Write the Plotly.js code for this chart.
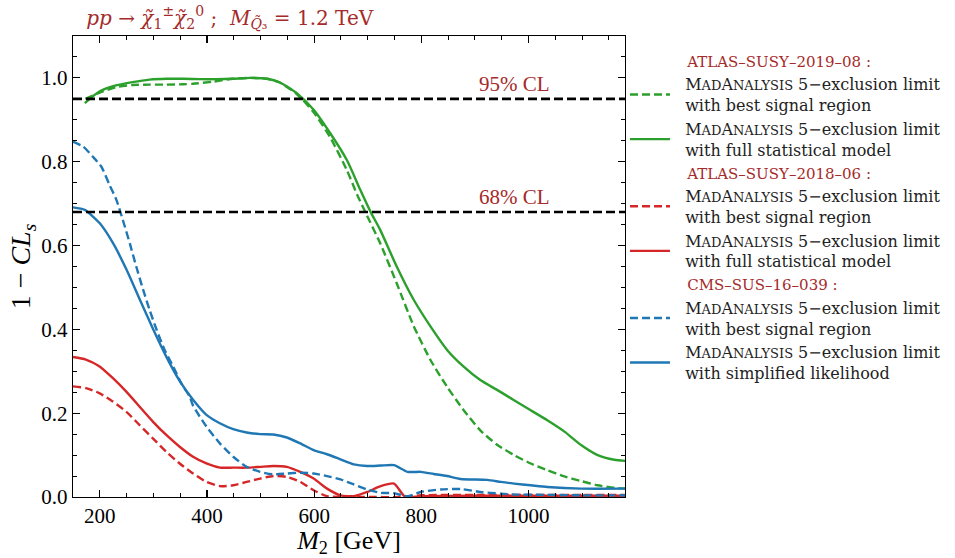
<!DOCTYPE html>
<html>
<head>
<meta charset="utf-8">
<script src="https://cdn.plot.ly/plotly-3.0.1.min.js"></script>
<style>html,body{margin:0;padding:0;background:#fff;}</style>
</head>
<body>
<div id="chart" style="width:955px;height:558px;"></div>
<script>
// ---- data ----
const greenSolidX = [172, 200, 230, 261, 293, 325, 356, 387, 418, 448, 480, 512, 536, 568, 599, 630, 661, 686, 705, 723, 754, 786, 817, 848, 879, 910, 942, 973, 1004, 1035, 1067, 1098, 1129, 1160, 1182];
const greenSolidY = [0.940, 0.968, 0.982, 0.990, 0.996, 0.998, 0.998, 0.997, 0.997, 0.998, 1.000, 0.998, 0.989, 0.963, 0.924, 0.868, 0.804, 0.733, 0.681, 0.638, 0.550, 0.470, 0.407, 0.351, 0.311, 0.279, 0.255, 0.231, 0.207, 0.183, 0.156, 0.124, 0.100, 0.089, 0.086];

const greenDashX = [173, 200, 230, 261, 293, 324, 356, 374, 411, 448, 480, 512, 536, 568, 599, 630, 661, 680, 695, 723, 754, 786, 817, 848, 879, 910, 942, 973, 1004, 1035, 1067, 1098, 1129, 1160, 1182];
const greenDashY = [0.950, 0.965, 0.978, 0.983, 0.984, 0.984, 0.985, 0.986, 0.991, 0.998, 1.000, 0.998, 0.989, 0.961, 0.918, 0.858, 0.780, 0.722, 0.681, 0.606, 0.510, 0.407, 0.327, 0.263, 0.207, 0.159, 0.124, 0.100, 0.080, 0.064, 0.049, 0.038, 0.028, 0.022, 0.020];

const redSolidX = [150, 174, 199, 224, 249, 274, 299, 324, 349, 374, 399, 424, 449, 474, 499, 524, 549, 574, 599, 624, 649, 674, 699, 724, 749, 770, 800, 900, 1000, 1100, 1182];
const redSolidY = [0.334, 0.328, 0.312, 0.284, 0.252, 0.216, 0.180, 0.148, 0.120, 0.096, 0.080, 0.070, 0.070, 0.070, 0.072, 0.074, 0.072, 0.060, 0.044, 0.020, 0.004, 0.002, 0.012, 0.026, 0.032, 0.000, 0.002, 0.003, 0.003, 0.003, 0.003];

const redDashX = [150, 174, 199, 224, 249, 274, 299, 324, 349, 374, 399, 424, 449, 474, 499, 524, 549, 574, 599, 624, 650, 700, 760, 800, 900, 1000, 1100, 1182];
const redDashY = [0.264, 0.260, 0.248, 0.228, 0.204, 0.172, 0.140, 0.108, 0.080, 0.056, 0.036, 0.026, 0.028, 0.036, 0.044, 0.050, 0.048, 0.036, 0.016, 0.002, 0.000, 0.000, 0.000, 0.004, 0.005, 0.005, 0.005, 0.005];

const blueDashX = [150, 169, 187, 203, 218, 231, 243, 256, 268, 281, 293, 306, 321, 337, 352, 368, 374, 399, 424, 449, 474, 499, 524, 549, 574, 599, 624, 649, 674, 699, 724, 749, 774, 799, 836, 874, 910, 948, 973, 1035, 1100, 1182];
const blueDashY = [0.848, 0.836, 0.812, 0.788, 0.745, 0.709, 0.661, 0.605, 0.550, 0.494, 0.446, 0.399, 0.351, 0.311, 0.271, 0.239, 0.218, 0.168, 0.128, 0.096, 0.072, 0.060, 0.054, 0.056, 0.058, 0.056, 0.050, 0.042, 0.030, 0.018, 0.010, 0.009, 0.002, 0.012, 0.018, 0.019, 0.012, 0.008, 0.006, 0.005, 0.004, 0.004];

const blueSolidX = [150, 172, 200, 225, 250, 275, 300, 324, 349, 374, 399, 424, 449, 474, 499, 524, 549, 574, 599, 624, 649, 674, 699, 724, 749, 774, 799, 823, 848, 873, 923, 948, 973, 1004, 1035, 1098, 1182];
const blueSolidY = [0.691, 0.685, 0.653, 0.605, 0.542, 0.470, 0.399, 0.335, 0.277, 0.232, 0.196, 0.176, 0.162, 0.154, 0.150, 0.149, 0.142, 0.128, 0.112, 0.102, 0.090, 0.078, 0.074, 0.075, 0.076, 0.060, 0.060, 0.055, 0.050, 0.043, 0.041, 0.036, 0.032, 0.028, 0.024, 0.020, 0.020];

const clLevels = [0.95, 0.68];
const clLabels = ['95% CL', '68% CL'];
const clLabelX = 973;
const xRange = [150, 1180];
const yRange = [0, 1.1];

const groupTitles = ['ATLAS–SUSY–2019–08 :', 'ATLAS–SUSY–2018–06 :', 'CMS–SUS–16–039 :'];
const legendLine1 = 'M<span style="font-size:13px">AD</span>A<span style="font-size:13px">NALYSIS</span> 5−exclusion limit';
const legendLine2 = ['with best signal region', 'with full statistical model', 'with best signal region',
                     'with full statistical model', 'with best signal region', 'with simplified likelihood'];

// ---- styling ----
const FONT = 'Liberation Serif, DejaVu Serif, serif';
const LFONT = 'DejaVu Serif, Liberation Serif, serif';
const BROWN = '#a52a2a';
const GREEN = '#2ca02c', RED = '#d62728', BLUE = '#1f77b4';
const DASH = '8px,4px';
const IND = '\u00a0\u00a0';
const GIND = '\u00a0'.repeat(12);

function tr(x, y, color, dashed, idx, group, gtitle) {
  return {
    x: x, y: y, type: 'scatter', mode: 'lines',
    line: {color: color, width: 2.4, dash: dashed ? DASH : 'solid', shape: 'spline', smoothing: 0.6},
    name: IND + legendLine1 + '<br>' + IND + legendLine2[idx], legendgroup: group,
    legendgrouptitle: {text: GIND + gtitle, font: {family: LFONT, size: 15, color: BROWN}},
    hoverinfo: 'skip'
  };
}

const data = [
  tr(greenDashX, greenDashY, GREEN, true, 0, 'g1', groupTitles[0]),
  tr(greenSolidX, greenSolidY, GREEN, false, 1, 'g1', groupTitles[0]),
  tr(redDashX, redDashY, RED, true, 2, 'g2', groupTitles[1]),
  tr(redSolidX, redSolidY, RED, false, 3, 'g2', groupTitles[1]),
  tr(blueDashX, blueDashY, BLUE, true, 4, 'g3', groupTitles[2]),
  tr(blueSolidX, blueSolidY, BLUE, false, 5, 'g3', groupTitles[2])
];

clLevels.forEach(function (lv) {
  data.push({
    x: xRange, y: [lv, lv], type: 'scatter', mode: 'lines',
    line: {color: '#000', width: 2.6, dash: '9px,4px'},
    showlegend: false, hoverinfo: 'skip'
  });
});

const axisCommon = {
  showline: true, linecolor: '#000', linewidth: 1.2, mirror: 'allticks',
  ticks: 'inside', ticklen: 7, tickwidth: 1.1, tickcolor: '#000',
  showgrid: false, zeroline: false,
  tickfont: {family: FONT, size: 21, color: '#000'}
};

const layout = {
  width: 955, height: 558,
  margin: {l: 73, r: 330, t: 36, b: 61, autoexpand: false},
  paper_bgcolor: '#fff', plot_bgcolor: '#fff',
  font: {family: FONT, color: '#000'},
  title: {
    text: '<i>pp</i> → <i>χ̃</i><sub>1</sub><sup>±</sup><i>χ̃</i><sub>2</sub><sup>0</sup>\u00a0;\u00a0\u00a0<i>M</i><sub><i>Q̃</i>₃</sub> = 1.2 TeV',
    font: {family: LFONT, size: 20, color: BROWN},
    x: 0.024, xref: 'paper', xanchor: 'left',
    y: 0.968, yref: 'container', yanchor: 'middle'
  },
  xaxis: Object.assign({}, axisCommon, {
    range: xRange, tick0: 0, dtick: 200,
    minor: {dtick: 50, tick0: 0, ticks: 'inside', ticklen: 4, tickwidth: 1, tickcolor: '#000'},
    title: {text: '<i>M</i><sub>2</sub> [GeV]', font: {family: FONT, size: 26}, standoff: 10}
  }),
  yaxis: Object.assign({}, axisCommon, {
    range: yRange, tick0: 0, dtick: 0.2, tickformat: '.1f',
    minor: {dtick: 0.05, tick0: 0, ticks: 'inside', ticklen: 4, tickwidth: 1, tickcolor: '#000'},
    title: {text: '1 − <i>CL</i><sub><i>s</i></sub>', font: {family: FONT, size: 28}, standoff: 2}
  }),
  legend: {
    x: 1.0, xanchor: 'left', y: 0.981, yanchor: 'top',
    bgcolor: 'rgba(0,0,0,0)', borderwidth: 0,
    font: {family: LFONT, size: 16, color: '#222'},
    traceorder: 'grouped', tracegroupgap: 0, itemwidth: 40
  },
  annotations: clLevels.map(function (lv, i) {
    return {
      x: clLabelX, y: lv, xref: 'x', yref: 'y', text: clLabels[i],
      showarrow: false, yanchor: 'bottom', yshift: 1,
      font: {family: FONT, size: 21, color: BROWN}
    };
  })
};

Plotly.newPlot('chart', data, layout, {displayModeBar: false, staticPlot: true});
</script>
</body>
</html>
